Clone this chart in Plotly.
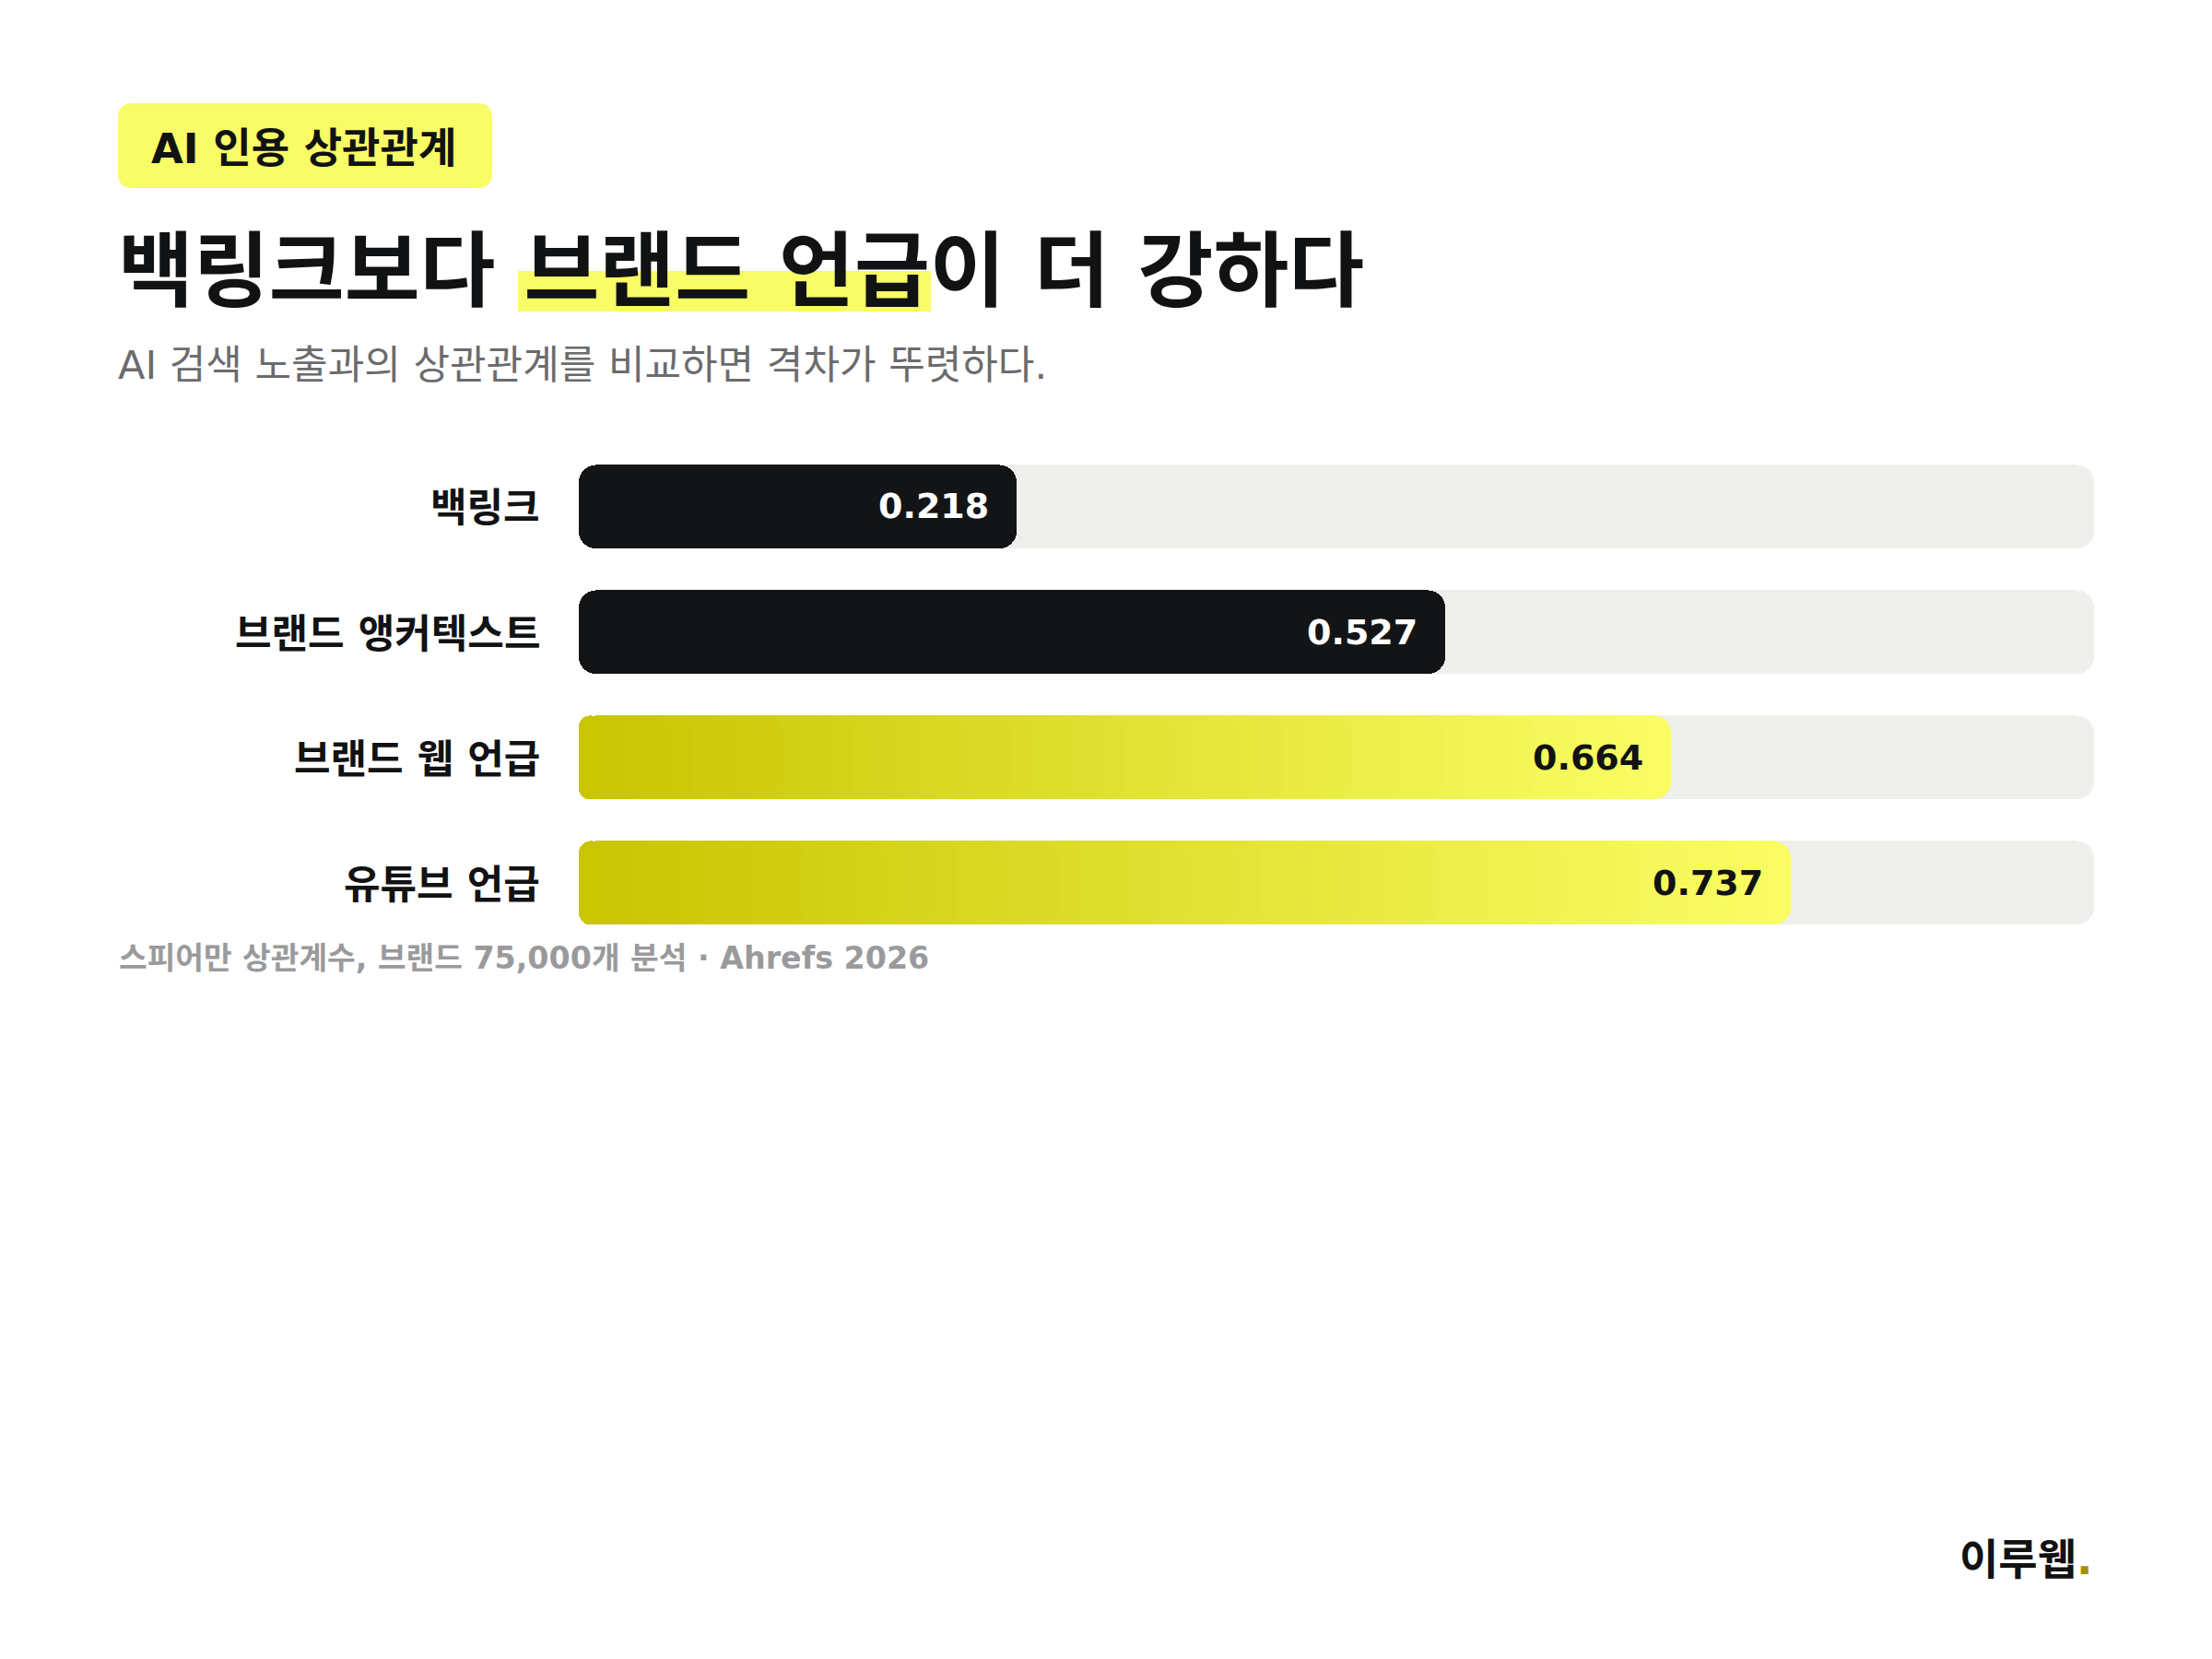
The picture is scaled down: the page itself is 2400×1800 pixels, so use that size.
import plotly.graph_objects as go

# ---------------- data ----------------
CATEGORIES = ["백링크", "브랜드 앵커텍스트", "브랜드 웹 언급", "유튜브 언급"]
VALUES = [0.218, 0.527, 0.664, 0.737]
KINDS = ["dark", "dark", "accent", "accent"]

BADGE = "AI 인용 상관관계"
TITLE_PRE = "백링크보다 "
TITLE_HL = "브랜드 언급"
TITLE_POST = "이 더 강하다"
SUBTITLE = "AI 검색 노출과의 상관관계를 비교하면 격차가 뚜렷하다."
FOOTNOTE = "스피어만 상관계수, 브랜드 75,000개 분석 · Ahrefs 2026"
BRAND = "이루웹"

# ---------------- style ----------------
W, H = 2400, 1800
FONT = "DejaVu Sans, Noto Sans CJK KR"
INK = "#111213"
DARK_BAR = "#131416"
TRACK = "#EFEFEB"
YEL_LEFT = (200, 196, 0)
YEL_RIGHT = (249, 253, 99)
BADGE_COL = "#F8FC66"
RADIUS = 19
N_SEG = 48
MIN_BAR_SHARE = 0.289        # minimum visible bar length as share of the track
TRACK_MAX = max(VALUES) / 0.8  # longest bar fills 80% of the track

def px(x):
    return x / W

def py(y):
    return 1 - y / H

def rgb(t):
    c = [round(a + (b - a) * t) for a, b in zip(YEL_LEFT, YEL_RIGHT)]
    return f"rgb({c[0]},{c[1]},{c[2]})"

disp = [max(v, MIN_BAR_SHARE * TRACK_MAX) for v in VALUES]

fig = go.Figure()

def add_bar(cats, base, length, color, radius=RADIUS):
    fig.add_trace(go.Bar(
        y=cats, x=length, base=base, orientation="h", width=0.668,
        marker=dict(color=color, line=dict(width=0), cornerradius=radius),
        hoverinfo="skip", showlegend=False))

# track (two overlapping halves -> both ends rounded)
add_bar(CATEGORIES, [0.6 * TRACK_MAX] * 4, [-0.6 * TRACK_MAX] * 4, TRACK)
add_bar(CATEGORIES, [0.4 * TRACK_MAX] * 4, [0.6 * TRACK_MAX] * 4, TRACK)

# dark bars
dc = [c for c, k in zip(CATEGORIES, KINDS) if k == "dark"]
dv = [d for d, k in zip(disp, KINDS) if k == "dark"]
add_bar(dc, [0.6 * v for v in dv], [-0.6 * v for v in dv], DARK_BAR)
add_bar(dc, [0.4 * v for v in dv], [0.6 * v for v in dv], DARK_BAR)

# accent bars with horizontal gradient
ac = [c for c, k in zip(CATEGORIES, KINDS) if k == "accent"]
av = [d for d, k in zip(disp, KINDS) if k == "accent"]
add_bar(ac, [0.4 * v for v in av], [0.6 * v for v in av], rgb(1.0))
for j in range(N_SEG - 2, -1, -1):
    f = (j + 1) / N_SEG
    t = (j + 0.5) / (N_SEG - 1)
    add_bar(ac, [f * v for v in av], [-f * v for v in av], rgb(min(t, 1.0)))

annotations = []
# category labels
for c in CATEGORIES:
    annotations.append(dict(
        x=px(588), xref="paper", y=c, yref="y", text=c, showarrow=False,
        xanchor="right", yanchor="middle", yshift=-2,
        font=dict(family=FONT, size=43, color=INK, weight=700)))
# value labels
for c, v, d, k in zip(CATEGORIES, VALUES, disp, KINDS):
    annotations.append(dict(
        x=d, xref="x", y=c, yref="y", text=f"{v:.3f}", showarrow=False,
        xanchor="right", yanchor="middle", xshift=-28,
        font=dict(family=FONT, size=38, color="#FFFFFF" if k == "dark" else INK,
                  weight=700)))

# header texts
annotations += [
    dict(x=px(162), y=py(161), xref="paper", yref="paper", text=BADGE,
         showarrow=False, xanchor="left", yanchor="middle",
         font=dict(family=FONT, size=45, color=INK, weight=700)),
    dict(x=px(126), y=py(294), xref="paper", yref="paper",
         text=TITLE_PRE + TITLE_HL + TITLE_POST,
         showarrow=False, xanchor="left", yanchor="middle",
         font=dict(family=FONT, size=89, color=INK, weight=700)),
    dict(x=px(126), y=py(396), xref="paper", yref="paper", text=SUBTITLE,
         showarrow=False, xanchor="left", yanchor="middle",
         font=dict(family=FONT, size=43, color="#6B6B6E")),
    dict(x=px(127), y=py(1039), xref="paper", yref="paper", text=FOOTNOTE,
         showarrow=False, xanchor="left", yanchor="middle",
         font=dict(family=FONT, size=33.3, color="#9A9A9C", weight=700)),
    dict(x=px(2272), y=py(1692), xref="paper", yref="paper",
         text=BRAND + '<span style="color:#A39200">.</span>',
         showarrow=False, xanchor="right", yanchor="middle",
         font=dict(family=FONT, size=46, color=INK, weight=700)),
]

def rrect(x0, y0, x1, y1, r):
    rx, ry = r / W, r / H
    X0, X1, Y0, Y1 = px(x0), px(x1), py(y0), py(y1)
    return (f"M{X0+rx},{Y0} L{X1-rx},{Y0} Q{X1},{Y0} {X1},{Y0-ry} "
            f"L{X1},{Y1+ry} Q{X1},{Y1} {X1-rx},{Y1} L{X0+rx},{Y1} "
            f"Q{X0},{Y1} {X0},{Y1+ry} L{X0},{Y0-ry} Q{X0},{Y0} {X0+rx},{Y0} Z")

shapes = [
    dict(type="path", xref="paper", yref="paper", path=rrect(128, 112, 534, 204, 16),
         fillcolor=BADGE_COL, line=dict(width=0), layer="below"),
    dict(type="rect", xref="paper", yref="paper", x0=px(562), x1=px(1010),
         y0=py(338), y1=py(294), fillcolor=BADGE_COL, line=dict(width=0), layer="below"),
]

fig.update_layout(
    width=W, height=H, margin=dict(l=0, r=0, t=0, b=0),
    paper_bgcolor="#FFFFFF", plot_bgcolor="rgba(0,0,0,0)",
    barmode="overlay", bargap=0,
    xaxis=dict(domain=[px(628), px(2272)], range=[0, TRACK_MAX], visible=False,
               fixedrange=True),
    yaxis=dict(domain=[py(1026.1), py(481.4)], type="category",
               categoryorder="array", categoryarray=CATEGORIES,
               range=[3.5, -0.5], visible=False, fixedrange=True),
    annotations=annotations, shapes=shapes,
)

fig.write_html("out.html", config={"displayModeBar": False},
               post_script="document.body.style.margin='0';document.body.style.padding='0';")
